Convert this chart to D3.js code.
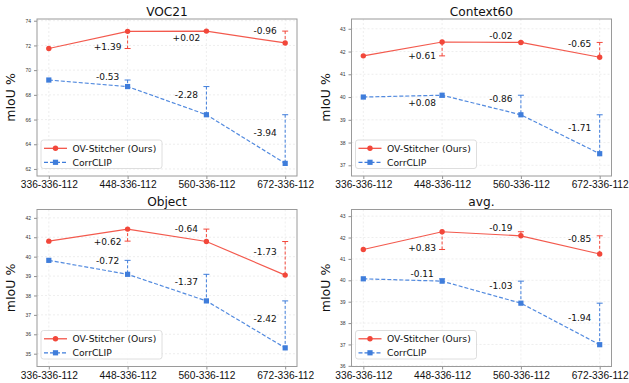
<!DOCTYPE html>
<html>
<head>
<meta charset="utf-8">
<script src="https://cdn.jsdelivr.net/npm/d3@7"></script>
<style>
  body { margin: 0; background: #fff; }
  svg { font-family: "DejaVu Sans", sans-serif; }
  .grid line { stroke: #e3e3e3; stroke-width: 0.6; stroke-dasharray: 2,2; }
</style>
</head>
<body>
<div id="chart"></div>
<script>
// x categories (resolution settings)
var categories = ["336-336-112", "448-336-112", "560-336-112", "672-336-112"];
var titles = ["VOC21", "Context60", "Object", "avg."];
var seriesNames = ["OV-Stitcher (Ours)", "CorrCLIP"];

// mIoU values
var ovVoc = [71.75, 73.14, 73.16, 72.20];
var ccVoc = [69.20, 68.67, 66.39, 62.45];
var ovCtx = [41.81, 42.42, 42.40, 41.75];
var ccCtx = [40.00, 40.08, 39.22, 37.51];
var ovObj = [40.80, 41.42, 40.78, 39.05];
var ccObj = [39.81, 39.09, 37.72, 35.30];
var ovAvg = [41.44, 42.27, 42.08, 41.23];
var ccAvg = [40.07, 39.96, 38.93, 36.99];

// y-axis limits and ticks per panel
var yLimits = [[61.43, 74.14], [36.53, 43.43], [34.34, 42.43], [35.97, 43.31]];
var yTicks = [[62, 64, 66, 68, 70, 72, 74], [37, 38, 39, 40, 41, 42, 43],
              [35, 36, 37, 38, 39, 40, 41, 42], [36, 37, 38, 39, 40, 41, 42, 43]];

var panels = [
  {title: titles[0], ov: ovVoc, cc: ccVoc, lim: yLimits[0], ticks: yTicks[0]},
  {title: titles[1], ov: ovCtx, cc: ccCtx, lim: yLimits[1], ticks: yTicks[1]},
  {title: titles[2], ov: ovObj, cc: ccObj, lim: yLimits[2], ticks: yTicks[2]},
  {title: titles[3], ov: ovAvg, cc: ccAvg, lim: yLimits[3], ticks: yTicks[3]}
];

var red = "#f2473a", blue = "#3f7ddb";
var W = 629, H = 383;
var pw = 260, ph = 157;
var lefts = [37, 351.5], tops = [19, 209.5];

var svg = d3.select("#chart").append("svg")
    .attr("width", W).attr("height", H);

panels.forEach(function(p, i) {
  var g = svg.append("g")
      .attr("transform", "translate(" + lefts[i % 2] + "," + tops[Math.floor(i / 2)] + ")");

  // 5% margin on each side, like matplotlib
  var x = d3.scalePoint().domain(categories).range([0, pw]).padding(0.15);
  var y = d3.scaleLinear().domain(p.lim).range([ph, 0]);

  // grid
  g.append("g").attr("class", "grid")
    .selectAll("line").data(p.ticks).enter().append("line")
      .attr("x1", 0).attr("x2", pw)
      .attr("y1", function(d) { return y(d); }).attr("y2", function(d) { return y(d); });
  g.append("g").attr("class", "grid")
    .selectAll("line").data(categories).enter().append("line")
      .attr("y1", 0).attr("y2", ph)
      .attr("x1", function(d) { return x(d); }).attr("x2", function(d) { return x(d); });

  // axes
  var xa = g.append("g").attr("transform", "translate(0," + ph + ")")
      .call(d3.axisBottom(x).tickSize(3).tickPadding(2));
  xa.selectAll("text").attr("font-size", "10.2px").attr("fill", "#111");
  var ya = g.append("g")
      .call(d3.axisLeft(y).tickValues(p.ticks).tickFormat(d3.format("d")).tickSize(3).tickPadding(3));
  ya.selectAll("text").attr("font-size", "5px").attr("fill", "#333");
  g.selectAll(".domain").remove();
  g.selectAll(".tick line").attr("stroke", "#444").attr("stroke-width", 0.6);

  // frame
  g.append("rect").attr("width", pw).attr("height", ph)
      .attr("fill", "none").attr("stroke", "#9a9a9a").attr("stroke-width", 1);

  // title and y label
  g.append("text").attr("x", pw / 2).attr("y", -3.5)
      .attr("text-anchor", "middle").attr("font-size", "12.2px").attr("fill", "#111")
      .text(p.title);
  g.append("text").attr("transform", "rotate(-90)")
      .attr("x", -ph / 2).attr("y", -22)
      .attr("text-anchor", "middle").attr("font-size", "12.5px").attr("fill", "#111")
      .text("mIoU %");

  var series = [
    {vals: p.ov, color: red, dash: null, square: false},
    {vals: p.cc, color: blue, dash: "4,2", square: true}
  ];

  series.forEach(function(s) {
    var pts = s.vals.map(function(v, j) { return {c: categories[j], v: v, prev: j > 0 ? s.vals[j - 1] : null}; });

    // difference bars
    var bars = pts.filter(function(d) { return d.prev !== null; });
    g.selectAll(null).data(bars).enter().append("line")
        .attr("x1", function(d) { return x(d.c); }).attr("x2", function(d) { return x(d.c); })
        .attr("y1", function(d) { return y(d.prev); }).attr("y2", function(d) { return y(d.v); })
        .attr("stroke", s.color).attr("stroke-width", 1).attr("stroke-dasharray", "3,2");
    g.selectAll(null).data(bars).enter().append("line")
        .attr("x1", function(d) { return x(d.c) - 3; }).attr("x2", function(d) { return x(d.c) + 3; })
        .attr("y1", function(d) { return y(d.prev); }).attr("y2", function(d) { return y(d.prev); })
        .attr("stroke", s.color).attr("stroke-width", 1);

    // difference labels
    g.selectAll(null).data(bars).enter().append("text")
        .attr("x", function(d) { return x(d.c) - 20; })
        .attr("y", function(d) {
          var mid = (y(d.prev) + y(d.v)) / 2;
          return d.v - d.prev >= 0 ? mid + 7 : mid - 6;
        })
        .attr("dy", "0.35em")
        .attr("text-anchor", "middle").attr("font-size", "9px").attr("fill", "#111")
        .text(function(d) {
          var diff = d.v - d.prev;
          return (diff >= 0 ? "+" : "-") + Math.abs(diff).toFixed(2);
        });

    // line
    g.append("path").datum(pts)
        .attr("fill", "none").attr("stroke", s.color).attr("stroke-width", 1.2)
        .attr("stroke-opacity", 0.9)
        .attr("stroke-dasharray", s.dash)
        .attr("d", d3.line().x(function(d) { return x(d.c); }).y(function(d) { return y(d.v); }));

    // markers
    if (s.square) {
      g.selectAll(null).data(pts).enter().append("rect")
          .attr("x", function(d) { return x(d.c) - 2.6; }).attr("y", function(d) { return y(d.v) - 2.6; })
          .attr("width", 5.2).attr("height", 5.2).attr("fill", s.color);
    } else {
      g.selectAll(null).data(pts).enter().append("circle")
          .attr("cx", function(d) { return x(d.c); }).attr("cy", function(d) { return y(d.v); })
          .attr("r", 2.7).attr("fill", s.color);
    }
  });

  // legend
  var lg = g.append("g").attr("transform", "translate(4," + (ph - 36) + ")");
  lg.append("rect").attr("width", 121).attr("height", 28.5).attr("rx", 2.5)
      .attr("fill", "#fff").attr("fill-opacity", 0.85)
      .attr("stroke", "#d6d6d6").attr("stroke-width", 0.8);
  series.forEach(function(s, k) {
    var yy = 8.3 + k * 14;
    lg.append("line").attr("x1", 3).attr("x2", 26).attr("y1", yy).attr("y2", yy)
        .attr("stroke", s.color).attr("stroke-width", 1.2).attr("stroke-dasharray", s.dash);
    if (s.square) {
      lg.append("rect").attr("x", 14.5 - 2.6).attr("y", yy - 2.6).attr("width", 5.2).attr("height", 5.2).attr("fill", s.color);
    } else {
      lg.append("circle").attr("cx", 14.5).attr("cy", yy).attr("r", 2.7).attr("fill", s.color);
    }
    lg.append("text").attr("x", 31.5).attr("y", yy).attr("dy", "0.35em")
        .attr("font-size", "9.2px").attr("fill", "#111").text(seriesNames[k]);
  });
});
</script>
</body>
</html>
